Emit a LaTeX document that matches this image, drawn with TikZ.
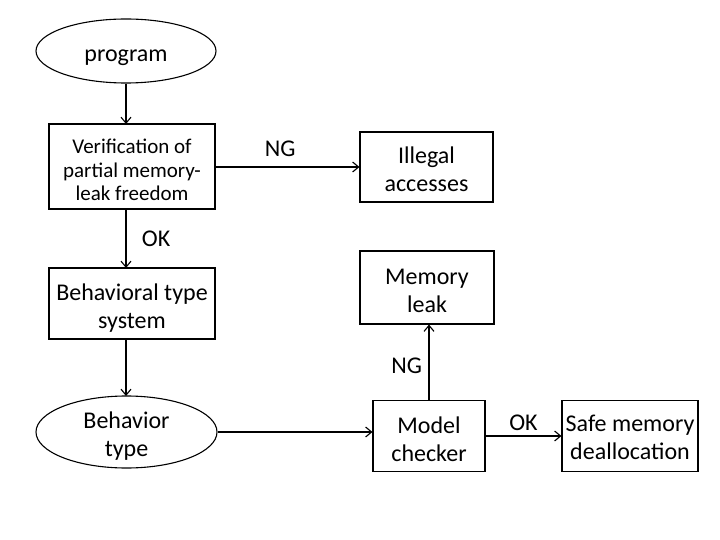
\documentclass[tikz,border=0pt]{standalone}
\usepackage{fontspec}
\setmainfont{Carlito}
\usepackage{xcolor}
\usetikzlibrary{shapes.geometric,arrows.meta}

% lines of a node, baseline on the first one
\newcommand{\lns}[1]{\begin{tabular}[t]{@{}c@{}}#1\end{tabular}}

\begin{document}
\begin{tikzpicture}[x=1pt, y=-1pt, line width=1.1pt, >={Straight Barb[length=6pt,width=10pt]},
    box/.style={draw, rectangle, inner sep=0pt, text height=20pt, text depth=26pt, font=\fontsize{24}{28}\selectfont},
    oval/.style={draw, ellipse, inner sep=0pt, text height=20pt, text depth=28pt, font=\fontsize{24}{28}\selectfont},
    lbl/.style={font=\fontsize{24}{28}\selectfont}]
            \useasboundingbox (0,0) rectangle (720,540);
            % start and the first check
            \node[oval, minimum width=180pt, minimum height=64pt, text height=22pt, text depth=0pt] (prog) at (126,51) {program};
            \node[box, minimum width=166pt, minimum height=85pt, text depth=45pt, font=\fontsize{21}{23.5}\selectfont] (verif) at (132,166.5) {\lns{Verification of\\partial memory-\\leak freedom}};
            \node[box, minimum width=133pt, minimum height=70pt] (illegal) at (426.5,167) {\lns{Illegal\\accesses}};
            \draw[->] (prog.south) -- (126,124);
            \draw[->] (verif.east |- illegal.west) -- (illegal.west) node[lbl, pos=0.45, above=6pt] {NG};
            % type system part
            \node[box, minimum width=166pt, minimum height=71pt] (bts) at (132,303.5) {\lns{Behavioral type\\system}};
            \node[oval, minimum width=181pt, minimum height=72pt] (btype) at (126.5,432) {\lns{Behavior\\type}};
            \draw[->] (126,209) -- (126,268) node[lbl, midway, right=12pt] {OK};
            \draw[->] (126,339) -- (126,396);
            % model checking
            \node[box, minimum width=112pt, minimum height=71pt] (mc) at (429,436) {\lns{Model\\checker}};
            \node[box, minimum width=134pt, minimum height=73pt] (leak) at (427,287.5) {\lns{Memory\\leak}};
            \node[box, minimum width=136pt, minimum height=71pt, text depth=30pt] (safe) at (630,436) {\lns{Safe memory\\deallocation}};
            \draw[->] (btype.east) -- (mc.west |- btype.east);
            \draw[->] (mc.north) -- (leak.south -| mc.north) node[lbl, pos=0.45, left=3pt] {NG};
            \draw[->] (mc.east) -- (safe.west) node[lbl, midway, above=1pt] {OK};
        \end{tikzpicture}
\end{document}
